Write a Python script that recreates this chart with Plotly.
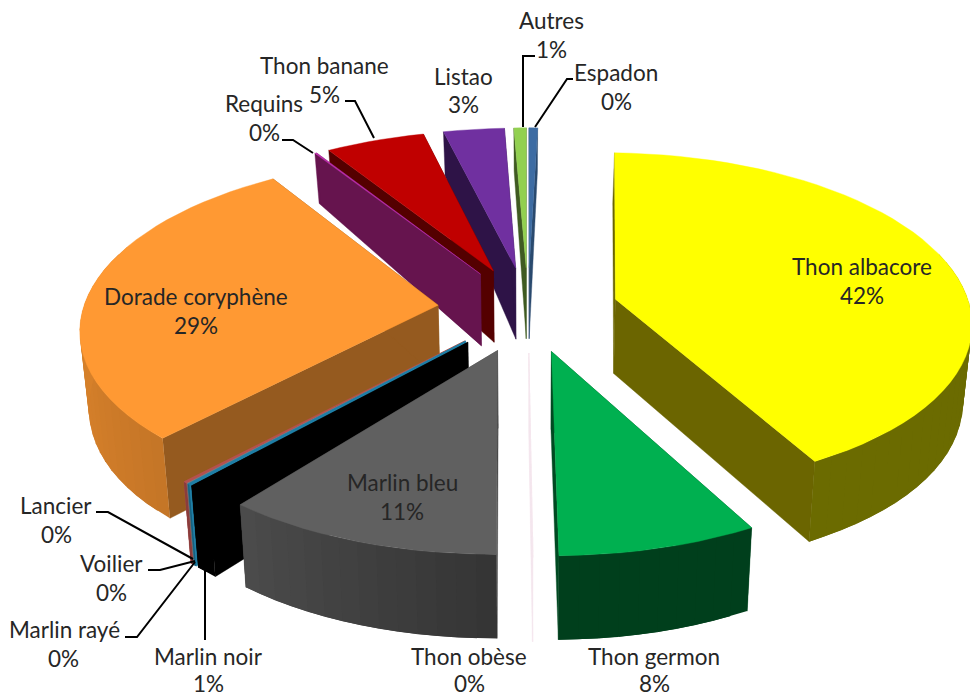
import math
import plotly.graph_objects as go

categories = ["Thon albacore", "Thon germon", "Thon obèse", "Marlin bleu", "Marlin noir",
              "Marlin rayé", "Voilier", "Lancier", "Dorade coryphène", "Requins",
              "Thon banane", "Listao", "Autres", "Espadon"]
values = [41.8, 7.8, 0.02, 10.9, 1.0, 0.08, 0.04, 0.16, 29.0, 0.1, 5.2, 3.2, 0.65, 0.45]
percent_labels = ["42%", "8%", "0%", "11%", "1%", "0%", "0%", "0%", "29%", "0%", "5%", "3%", "1%", "0%"]
top_colors = ["#ffff00", "#00b050", "#f4e6ee", "#606060", "#000000", "#1f7fa6", "#7f7f7f", "#b5504f",
              "#ff9933", "#c030b0", "#c00000", "#7030a0", "#92d050", "#3d6ca3"]
cut_colors = ["#6b6500", "#004a22", "#f4e6ee", "#454545", "#000000", "#1f7fa6", "#7f7f7f", "#b5504f",
              "#955a1f", "#66144e", "#540000", "#2e1347", "#3f5a22", "#2a4a6e"]
# centre of each label's first line, and of its percentage line
label_name_pos = [(862, 266), (654, 656), (469, 656), (402, 482), (208, 656), (64, 629), (111, 563),
                  (56, 505), (196, 296), (264, 103), (324, 65), (463, 76), (551, 20), (616, 72)]
label_pct_pos = [(862, 295), (654, 683), (469, 683), (402, 511), (208, 683), (63, 658), (111, 592),
                 (56, 534), (196, 325), (264, 132), (324, 94), (463, 104), (551, 49), (616, 101)]
leaders = [[(573, 79), (567, 79), (535, 127)], [(535, 56), (523, 56), (523, 127)],
           [(345, 101), (355, 101), (374, 138)], [(282, 140), (293, 140), (313, 153)],
           [(96, 512), (108, 512), (193, 559)], [(148, 570), (160, 570), (195, 561)],
           [(125, 637), (137, 637), (195, 562)], [(205, 640), (205, 566)]]
draw_order = [13, 12, 11, 10, 9, 8, 7, 6, 5, 4, 3, 2, 1, 0]

CX, CY, A, B, P = 528, 309, 355, 167, 0.125
PULL, START = 0.255, 1.6
TEXT = "#262626"
FONT = "Lato"


def top(X, Y):
    s = 1 / (1 + P * Y)
    return CX + A * X * s, CY - B * Y * s


def bottom(X, Y):
    s = 1 / (1 + P * Y)
    h = 75.1 - 13.7 * Y - 9.5 * Y * Y + 15 * max(0, -Y - 0.8)
    return CX + 0.98 * A * X * s, CY - B * Y * s + h


def shade(hex_color, f):
    r, g, b = (int(hex_color[i:i + 2], 16) for i in (1, 3, 5))
    return f"rgb({int(r * f)},{int(g * f)},{int(b * f)})"


fig = go.Figure()


def poly(pts, color, lw=0.4):
    xs = [p[0] for p in pts] + [pts[0][0]]
    ys = [p[1] for p in pts] + [pts[0][1]]
    fig.add_trace(go.Scatter(x=xs, y=ys, mode="lines", fill="toself", fillcolor=color,
                             line=dict(color=color, width=lw), hoverinfo="skip", showlegend=False))


total = sum(values)
angles = []
run = START
for v in values:
    angles.append((run, run + 360 * v / total))
    run += 360 * v / total

for i in draw_order:
    t0, t1 = angles[i]
    mid = math.radians((t0 + t1) / 2)
    ax, ay = PULL * math.sin(mid), PULL * math.cos(mid)
    n = max(2, int((t1 - t0) / 3) + 1)
    arc = [math.radians(t0 + (t1 - t0) * k / n) for k in range(n + 1)]
    disc = [(ax + math.sin(t), ay + math.cos(t)) for t in arc]
    # cut faces
    for d in (disc[0], disc[-1]):
        poly([top(ax, ay), top(*d), bottom(*d), bottom(ax, ay)], cut_colors[i])
    # outer wall, shaded by direction, as overlapping strips; back-facing steps are hidden
    for k in range(n):
        am = (arc[k] + arc[k + 1]) / 2
        if math.cos(am) > 0.3:
            continue
        f = 0.62 - 0.22 * math.sin(am)
        base = top_colors[i]
        if i == 0:
            f = 0.42
        elif i == 1:
            f = 0.36
        elif i == 2:
            f = 1.0
        elif i == 3:
            f = 0.55 + 0.25 * (math.degrees(am) - 180) / 40
        nxt = disc[min(k + 2, n)]
        poly([top(*disc[k]), top(*nxt), bottom(*nxt), bottom(*disc[k])], shade(base, f), lw=0)
    # top face
    poly([top(ax, ay)] + [top(*d) for d in disc], top_colors[i])

for path in leaders:
    fig.add_trace(go.Scatter(x=[p[0] for p in path], y=[p[1] for p in path], mode="lines",
                             line=dict(color="#000000", width=2), hoverinfo="skip", showlegend=False))

annotations = []
for name, pct, pn, pp in zip(categories, percent_labels, label_name_pos, label_pct_pos):
    for txt, (x, y) in ((name, pn), (pct, pp)):
        annotations.append(dict(x=x, y=y, text=txt, showarrow=False, xanchor="center", yanchor="middle",
                                font=dict(family=FONT, size=22.5, color=TEXT)))

fig.update_layout(width=970, height=696, margin=dict(l=0, r=0, t=0, b=0), autosize=False,
                  paper_bgcolor="white", plot_bgcolor="white", showlegend=False,
                  annotations=annotations,
                  xaxis=dict(range=[0, 970], visible=False, fixedrange=True),
                  yaxis=dict(range=[696, 0], visible=False, fixedrange=True))
fig.write_html("out.html", config=dict(displayModeBar=False),
               post_script="document.body.style.margin='0';document.body.style.overflow='hidden';")
